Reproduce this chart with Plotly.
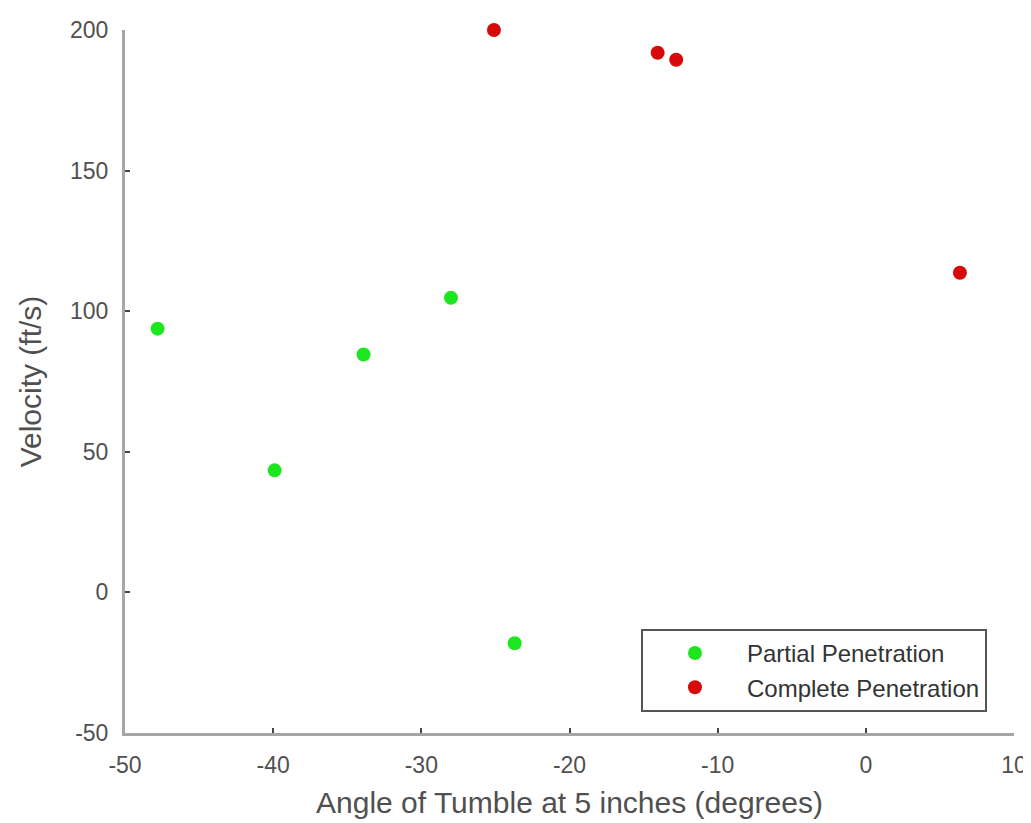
import plotly.graph_objects as go

partial_x = [-47.8, -39.9, -33.9, -28.0, -23.7]
partial_y = [93.8, 43.4, 84.6, 104.8, -18.1]
complete_x = [-25.1, -14.05, -12.8, 6.35]
complete_y = [200.0, 191.9, 189.4, 113.7]

x_ticks = [-50, -40, -30, -20, -10, 0, 10]
x_ticktext = ["-50", "-40", "-30", "-20", "-10", "0", "10"]
y_ticks = [-50, 0, 50, 100, 150, 200]
y_ticktext = ["-50", "0", "50", "100", "150", "200"]

FONT = "Liberation Sans, Arial, Helvetica"

fig = go.Figure()
fig.add_trace(go.Scatter(x=partial_x, y=partial_y, mode="markers", name="Partial Penetration",
                         legendgroup="a",
                         marker=dict(color="#1ee61e", size=14, line=dict(width=0)), cliponaxis=False))
fig.add_trace(go.Scatter(x=complete_x, y=complete_y, mode="markers", name="Complete Penetration",
                         legendgroup="b",
                         marker=dict(color="#d60a0a", size=14, line=dict(width=0)), cliponaxis=False))

axis_common = dict(showgrid=False, zeroline=False, showline=True, linecolor="#a6a6a6", linewidth=3,
                   ticks="inside", ticklen=5, tickcolor="#444444", tickwidth=1.5,
                   tickfont=dict(family=FONT, size=23, color="#505050"),
                   mirror=False)
fig.update_layout(
    width=1023, height=815,
    margin=dict(l=117, r=17, t=22, b=90, autoexpand=False),
    plot_bgcolor="white", paper_bgcolor="white",
    xaxis=dict(range=[-50, 10], tickvals=x_ticks, ticktext=x_ticktext, ticklabelstandoff=9,
               **axis_common,
               title=dict(text="Angle of Tumble at 5 inches (degrees)", standoff=16,
                          font=dict(family=FONT, size=30, color="#505050"))),
    yaxis=dict(range=[-50, 200], tickvals=y_ticks, ticktext=y_ticktext, ticklabelstandoff=9,
               **axis_common,
               title=dict(text="Velocity (ft/s)", standoff=20,
                          font=dict(family=FONT, size=30, color="#505050"))),
    legend=dict(x=0.9696, y=0.148, xanchor="right", yanchor="top",
                bgcolor="white", bordercolor="#555555", borderwidth=2,
                font=dict(family=FONT, size=24, color="#333333"),
                itemwidth=94, tracegroupgap=0),
    showlegend=True,
)
fig.write_html("out.html")
